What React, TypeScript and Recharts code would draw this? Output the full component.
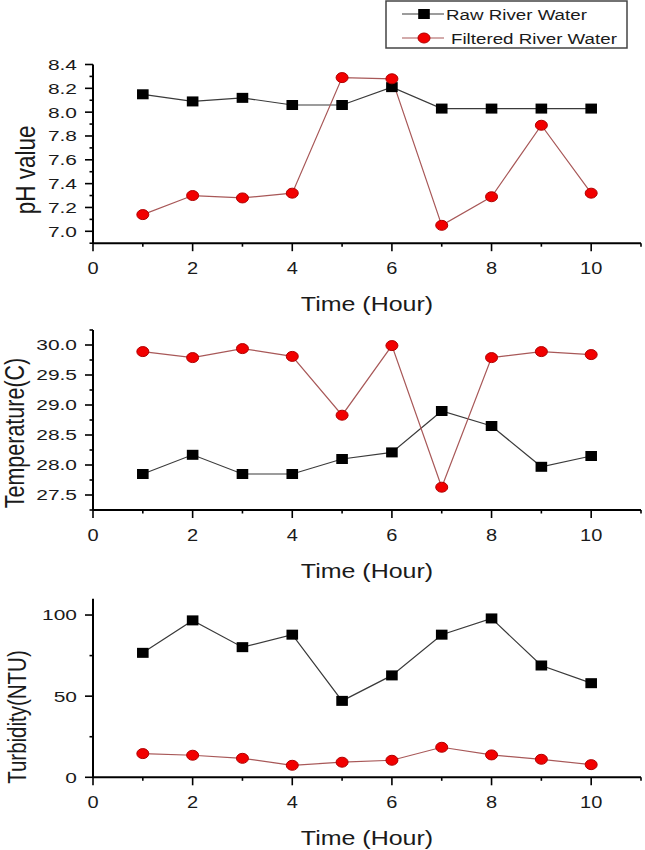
import React from 'react';
import { LineChart, Line, XAxis, YAxis, Legend, Label } from 'recharts';

// ---------- data ----------
const hours = [1, 2, 3, 4, 5, 6, 7, 8, 9, 10];
const seriesNames = ['Raw River Water', 'Filtered River Water'];

const phRaw = [8.15, 8.09, 8.12, 8.06, 8.06, 8.21, 8.03, 8.03, 8.03, 8.03];
const phFiltered = [7.14, 7.3, 7.28, 7.32, 8.29, 8.28, 7.05, 7.29, 7.89, 7.32];

const tempRaw = [27.85, 28.17, 27.85, 27.85, 28.1, 28.21, 28.9, 28.65, 27.97, 28.15];
const tempFiltered = [29.89, 29.79, 29.94, 29.81, 28.83, 29.99, 27.63, 29.79, 29.89, 29.84];

const turbRaw = [76.7, 96.7, 80.2, 87.9, 47.1, 62.8, 87.9, 97.9, 68.9, 58.0];
const turbFiltered = [14.6, 13.6, 11.7, 7.4, 9.3, 10.5, 18.5, 13.8, 11.1, 7.8];

const xMajorTicks = [0, 2, 4, 6, 8, 10];
const xMinorTicks = [1, 3, 5, 7, 9, 11];
const xLabel = 'Time (Hour)';

const phMajorTicks = [7.0, 7.2, 7.4, 7.6, 7.8, 8.0, 8.2, 8.4];
const phMinorTicks = [6.9, 7.1, 7.3, 7.5, 7.7, 7.9, 8.1, 8.3];
const tempMajorTicks = [27.5, 28.0, 28.5, 29.0, 29.5, 30.0];
const tempMinorTicks = [27.25, 27.75, 28.25, 28.75, 29.25, 29.75, 30.25];
const turbMajorTicks = [0, 50, 100];
const turbMinorTicks = [25, 75];

// ---------- styles ----------
const FONT = '"Liberation Sans", Arial, sans-serif';
const SX = 1.25; // horizontal stretch of the original figure
const SY_TICK = 1.35;
const TEXT = '#1a1a1a';
const RAW_LINE = '#3a3a3a';
const FILT_LINE = '#a85858';
const FILT_FILL = '#f20000';
const FILT_STROKE = '#b00000';

const buildRows = (raw: number[], filt: number[]) =>
  hours.map((h, i) => ({ hour: h, raw: raw[i], filtered: filt[i] }));

const SquareDot = (props: any) => {
  const { cx, cy } = props;
  if (cx == null || cy == null) return null;
  return <rect x={cx - 5.8} y={cy - 5} width={11.6} height={10} fill="#000" />;
};

const CircleDot = (props: any) => {
  const { cx, cy } = props;
  if (cx == null || cy == null) return null;
  return <ellipse cx={cx} cy={cy} rx={6} ry={5} fill={FILT_FILL} stroke={FILT_STROKE} strokeWidth={1} />;
};

const isIn = (arr: number[], v: number) => arr.some((m) => Math.abs(m - v) < 1e-6);

const makeYTick = (major: number[], digits: number) => (props: any) => {
  const { x, y, payload } = props;
  const major_ = isIn(major, payload.value);
  return (
    <g>
      <line x1={x} x2={x - (major_ ? 8 : 3.5)} y1={y} y2={y} stroke="#000" strokeWidth={1.6} />
      {major_ && (
        <text
          transform={`translate(${x - 16},${y}) scale(${SY_TICK},1)`}
          textAnchor="end"
          dominantBaseline="central"
          fontSize={15.5}
          fontFamily={FONT}
          fill={TEXT}
        >
          {payload.value.toFixed(digits)}
        </text>
      )}
    </g>
  );
};

const XTick = (props: any) => {
  const { x, y, payload } = props;
  const major_ = isIn(xMajorTicks, payload.value);
  return (
    <g>
      <line x1={x} x2={x} y1={y} y2={y + (major_ ? 8 : 3.5)} stroke="#000" strokeWidth={1.6} />
      {major_ && (
        <text
          transform={`translate(${x},${y + 31}) scale(${SX},1)`}
          textAnchor="middle"
          fontSize={16}
          fontFamily={FONT}
          fill={TEXT}
        >
          {payload.value}
        </text>
      )}
    </g>
  );
};

const xLabelContent = (props: any) => {
  const vb = props.viewBox;
  return (
    <text
      transform={`translate(${vb.x + vb.width / 2},${vb.y + 68}) scale(${SX},1)`}
      textAnchor="middle"
      fontSize={20}
      fontFamily={FONT}
      fill={TEXT}
    >
      {xLabel}
    </text>
  );
};

const makeYLabel = (text: string, cx: number, dy: number, size: number) => (props: any) => {
  const vb = props.viewBox;
  const cy = vb.y + vb.height / 2 + dy;
  return (
    <text
      transform={`translate(${cx},${cy}) scale(${SX},1) rotate(-90)`}
      textAnchor="middle"
      dominantBaseline="central"
      fontSize={size}
      fontFamily={FONT}
      fill={TEXT}
    >
      {text}
    </text>
  );
};

const LegendBox = () => (
  <svg width={244} height={50} style={{ display: 'block' }}>
    <rect x={1} y={1} width={241} height={47} fill="#fff" stroke="#444" strokeWidth={1.5} />
    <line x1={17} x2={59} y1={14} y2={14} stroke={RAW_LINE} strokeWidth={1.2} />
    <rect x={33.2} y={9} width={11.6} height={10} fill="#000" />
    <text transform={`translate(61,19.5) scale(${SX},1)`} fontSize={15} fontFamily={FONT} fill={TEXT}>
      {seriesNames[0]}
    </text>
    <line x1={17} x2={59} y1={38} y2={38} stroke={FILT_LINE} strokeWidth={1.2} />
    <ellipse cx={39} cy={38} rx={6} ry={5} fill={FILT_FILL} stroke={FILT_STROKE} strokeWidth={1} />
    <text transform={`translate(66,43.5) scale(${SX},1)`} fontSize={15} fontFamily={FONT} fill={TEXT}>
      {seriesNames[1]}
    </text>
  </svg>
);

type PanelProps = {
  top: number;
  height: number;
  marginTop: number;
  xAxisHeight: number;
  rows: any[];
  domain: [number, number];
  major: number[];
  minor: number[];
  digits: number;
  yLabel: (p: any) => any;
  legend?: boolean;
};

const Panel = (p: PanelProps) => {
  const yTicks = [...p.major, ...p.minor].sort((a, b) => a - b);
  const xTicks = [...xMajorTicks, ...xMinorTicks].sort((a, b) => a - b);
  return (
    <div style={{ position: 'absolute', left: 0, top: p.top, width: 645, height: p.height }}>
      <LineChart
        width={645}
        height={p.height}
        data={p.rows}
        margin={{ top: p.marginTop, right: 4, left: 0, bottom: 0 }}
      >
        <XAxis
          type="number"
          dataKey="hour"
          domain={[0, 11]}
          ticks={xTicks}
          interval={0}
          height={p.xAxisHeight}
          tickSize={0}
          tickMargin={0}
          tickLine={false}
          axisLine={{ stroke: '#000', strokeWidth: 2 }}
          tick={<XTick />}
          allowDataOverflow
        >
          <Label content={xLabelContent} />
        </XAxis>
        <YAxis
          type="number"
          domain={p.domain}
          ticks={yTicks}
          interval={0}
          width={93}
          tickSize={0}
          tickMargin={0}
          tickLine={false}
          axisLine={{ stroke: '#000', strokeWidth: 2 }}
          tick={makeYTick(p.major, p.digits)}
          allowDataOverflow
        >
          <Label content={p.yLabel} />
        </YAxis>
        {p.legend && (
          <Legend
            layout="vertical"
            align="center"
            verticalAlign="middle"
            content={() => <LegendBox />}
            wrapperStyle={{ position: 'absolute', left: 385, top: 0, width: 244, height: 50 }}
          />
        )}
        <Line
          dataKey="raw"
          name={seriesNames[0]}
          stroke={RAW_LINE}
          strokeWidth={1.2}
          dot={<SquareDot />}
          isAnimationActive={false}
        />
        <Line
          dataKey="filtered"
          name={seriesNames[1]}
          stroke={FILT_LINE}
          strokeWidth={1.2}
          dot={<CircleDot />}
          isAnimationActive={false}
        />
      </LineChart>
    </div>
  );
};

export default function App() {
  return (
    <div
      style={{
        position: 'absolute',
        left: 0,
        top: 0,
        width: 645,
        height: 850,
        background: '#fff',
        overflow: 'hidden',
      }}
    >
      <Panel
        top={0}
        height={320}
        marginTop={64.5}
        xAxisHeight={76.8}
        rows={buildRows(phRaw, phFiltered)}
        domain={[6.9, 8.4]}
        major={phMajorTicks}
        minor={phMinorTicks}
        digits={1}
        yLabel={makeYLabel('pH value', 25, 16, 22.5)}
        legend
      />
      <Panel
        top={320}
        height={270}
        marginTop={10}
        xAxisHeight={80}
        rows={buildRows(tempRaw, tempFiltered)}
        domain={[27.25, 30.25]}
        major={tempMajorTicks}
        minor={tempMinorTicks}
        digits={1}
        yLabel={makeYLabel('Temperature(C)', 15, 13, 21.5)}
      />
      <Panel
        top={590}
        height={260}
        marginTop={8.8}
        xAxisHeight={72.7}
        rows={buildRows(turbRaw, turbFiltered)}
        domain={[0, 110]}
        major={turbMajorTicks}
        minor={turbMinorTicks}
        digits={0}
        yLabel={makeYLabel('Turbidity(NTU)', 17, 29, 20.5)}
      />
    </div>
  );
}
